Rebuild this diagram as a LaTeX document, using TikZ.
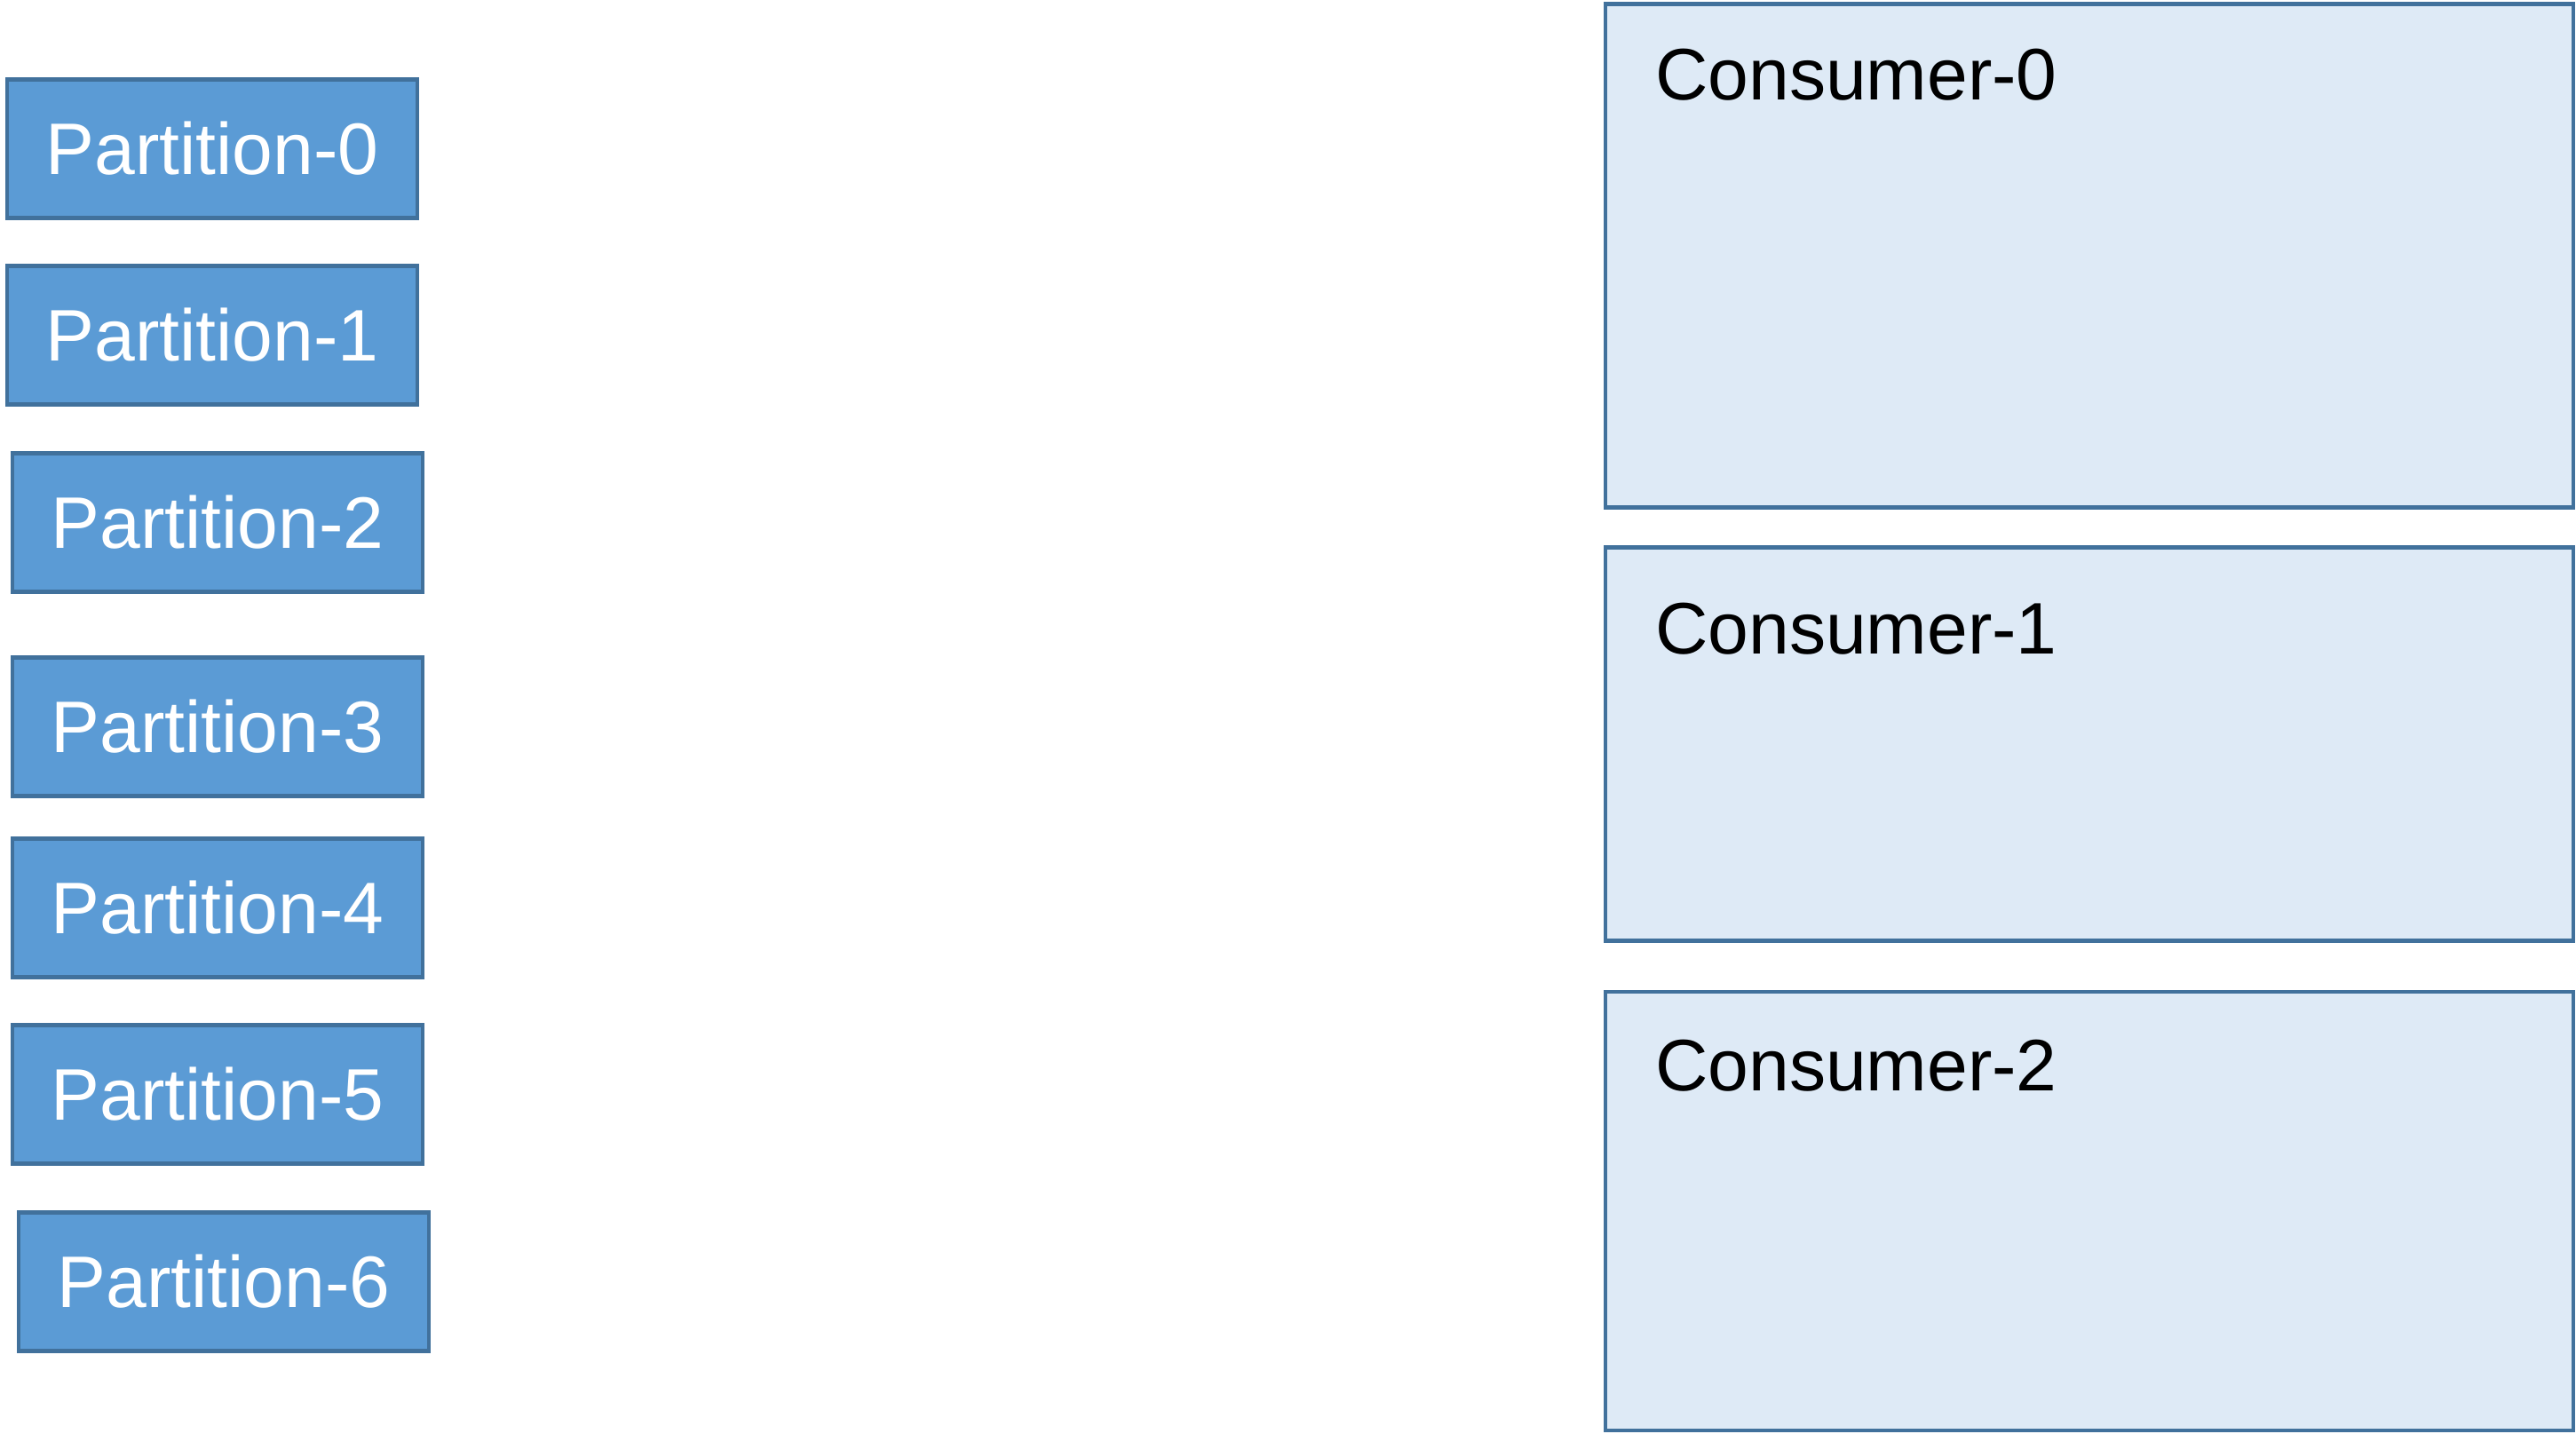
\documentclass[tikz,border=0pt]{standalone}
\usepackage{fontspec}
\setmainfont{Liberation Sans}
\definecolor{myBlue}{RGB}{91,155,213}
\definecolor{myEdge}{RGB}{65,113,156}
\definecolor{myPale}{RGB}{222,234,246}
\usepackage{tikz}
\usetikzlibrary{positioning}

\begin{document}
\begin{tikzpicture}[
        part/.style={draw=myEdge, fill=myBlue, line width=1.4pt, text=white,
            minimum width=4.62cm, minimum height=1.56cm, inner sep=0pt,
            font=\fontsize{23.4}{27}\selectfont},
        cons/.style={draw=myEdge, fill=myPale, line width=1.4pt,
            minimum width=10.9cm, inner sep=0pt},
        ctext/.style={inner sep=0pt, font=\fontsize{23.4}{27}\selectfont}
    ]
                \useasboundingbox (0,0) rectangle (29.01,16.15);
                
                \node[part] (p0) at (2.39,14.475) {Partition-0};
                \node[part] (p1) at (2.39,12.375) {Partition-1};
                \node[part] (p2) at (2.45,10.265) {Partition-2};
                \node[part] (p3) at (2.45,7.965) {Partition-3};
                \node[part] (p4) at (2.45,5.925) {Partition-4};
                \node[part] (p5) at (2.45,3.825) {Partition-5};
                \node[part] (p6) at (2.52,1.715) {Partition-6};
                
                \node[cons, minimum height=5.67cm] (c0) at (23.53,13.27) {};
                \node[cons, minimum height=4.43cm] (c1) at (23.53,7.77) {};
                \node[cons, minimum height=4.94cm] (c2) at (23.53,2.51) {};
                
                \node[ctext, below right=0.52cm and 0.58cm of c0.north west] (c0t) {Consumer-0};
                \node[ctext, below right=0.64cm and 0.58cm of c1.north west] (c1t) {Consumer-1};
                \node[ctext, below right=0.56cm and 0.58cm of c2.north west] (c2t) {Consumer-2};
            \end{tikzpicture}
\end{document}
